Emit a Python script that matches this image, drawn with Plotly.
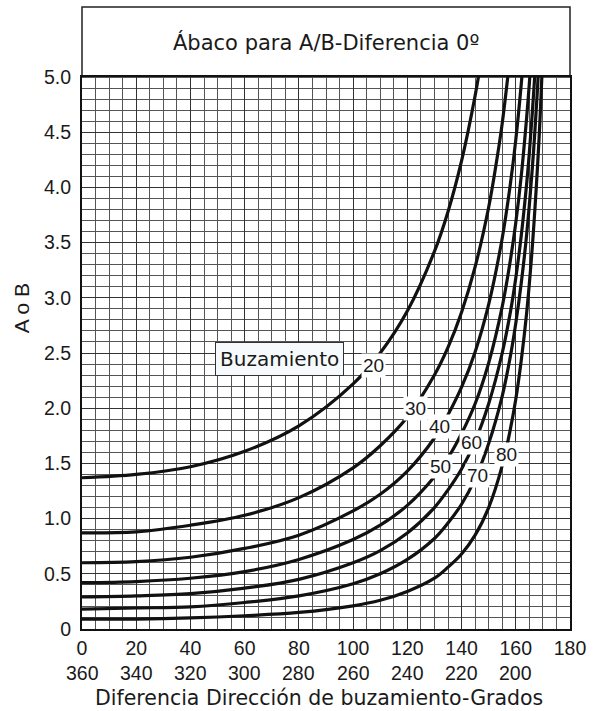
import plotly.graph_objects as go

# ---- data (A or B vs dip-direction difference) ----
DIPS = [20, 30, 40, 50, 60, 70, 80]

X_20 = [0, 20, 40, 60, 80, 100, 110, 120, 130, 135, 140, 145, 147]
Y_20 = [1.37, 1.40, 1.47, 1.61, 1.84, 2.22, 2.50, 2.88, 3.42, 3.78, 4.24, 4.83, 5.12]

X_30 = [0, 20, 40, 60, 80, 100, 110, 120, 130, 135, 140, 145, 150, 153, 155, 158]
Y_30 = [0.87, 0.88, 0.94, 1.03, 1.19, 1.46, 1.66, 1.92, 2.30, 2.55, 2.87, 3.28, 3.82, 4.25, 4.58, 5.21]

X_40 = [0, 20, 40, 60, 80, 100, 110, 120, 130, 135, 140, 145, 150, 155, 158, 160, 162, 163]
Y_40 = [0.60, 0.61, 0.65, 0.73, 0.85, 1.07, 1.22, 1.43, 1.73, 1.94, 2.19, 2.51, 2.94, 3.54, 4.03, 4.43, 4.93, 5.22]

X_50 = [0, 20, 40, 60, 80, 100, 110, 120, 130, 135, 140, 145, 150, 155, 158, 160, 162, 164, 165, 166]
Y_50 = [0.42, 0.43, 0.46, 0.52, 0.63, 0.81, 0.94, 1.12, 1.38, 1.55, 1.77, 2.04, 2.41, 2.92, 3.34, 3.68, 4.10, 4.63, 4.94, 5.30]

X_60 = [0, 20, 40, 60, 80, 100, 110, 120, 130, 135, 140, 145, 150, 155, 158, 160, 162, 164, 165, 166, 167, 168]
Y_60 = [0.29, 0.30, 0.32, 0.37, 0.45, 0.60, 0.71, 0.87, 1.10, 1.26, 1.45, 1.70, 2.04, 2.50, 2.87, 3.18, 3.56, 4.03, 4.31, 4.64, 5.01, 5.43]

X_70 = [0, 20, 40, 60, 80, 100, 110, 120, 130, 135, 140, 145, 150, 155, 158, 160, 162, 164, 166, 167, 168, 169]
Y_70 = [0.18, 0.19, 0.20, 0.24, 0.30, 0.41, 0.50, 0.63, 0.82, 0.96, 1.13, 1.36, 1.68, 2.11, 2.47, 2.77, 3.13, 3.57, 4.14, 4.49, 4.89, 5.37]

X_80 = [0, 20, 40, 60, 80, 100, 110, 120, 130, 135, 140, 145, 150, 155, 158, 160, 162, 164, 166, 168, 169, 170]
Y_80 = [0.09, 0.09, 0.10, 0.12, 0.15, 0.21, 0.26, 0.34, 0.46, 0.56, 0.68, 0.85, 1.10, 1.48, 1.81, 2.08, 2.43, 2.86, 3.43, 4.18, 4.65, 5.22]

CURVES_X = [X_20, X_30, X_40, X_50, X_60, X_70, X_80]
CURVES_Y = [Y_20, Y_30, Y_40, Y_50, Y_60, Y_70, Y_80]

# curve label positions (on the curves)
LABEL_X = [107.7, 123.0, 131.8, 132.3, 143.8, 146.0, 156.5]
LABEL_Y = [2.39, 2.00, 1.83, 1.47, 1.69, 1.39, 1.585]

X_TICKS = [0, 20, 40, 60, 80, 100, 120, 140, 160, 180]
X_TICKS_2 = [0, 20, 40, 60, 80, 100, 120, 140, 160]
X_TICK_TEXT_2 = ["360", "340", "320", "300", "280", "260", "240", "220", "200"]
Y_TICKS = [0, 0.5, 1.0, 1.5, 2.0, 2.5, 3.0, 3.5, 4.0, 4.5, 5.0]
Y_TICK_TEXT = ["0", "0.5", "1.0", "1.5", "2.0", "2.5", "3.0", "3.5", "4.0", "4.5", "5.0"]

TITLE = "Ábaco para A/B-Diferencia 0º"
X_TITLE = "Diferencia Dirección de buzamiento-Grados"
Y_TITLE = "A o B"
BOX_LABEL = "Buzamiento"

W, H = 598, 711
ML, MR, MT, MB = 82, 18, 77, 82
PH = H - MT - MB
PW = W - ML - MR

NUM_FONT = "Liberation Sans, Arial, sans-serif"
TXT_FONT = "DejaVu Sans, Verdana, sans-serif"
INK = "#1a1a1a"

fig = go.Figure()
for xs, ys, d in zip(CURVES_X, CURVES_Y, DIPS):
    fig.add_trace(go.Scatter(
        x=xs, y=ys, mode="lines", name=str(d),
        line=dict(color="#111111", width=3.2, shape="spline", smoothing=1.0),
        hoverinfo="skip", showlegend=False,
    ))

annotations = []
for d, lx, ly in zip(DIPS, LABEL_X, LABEL_Y):
    annotations.append(dict(
        x=lx, y=ly, xref="x", yref="y", text=str(d), showarrow=False,
        font=dict(family=NUM_FONT, size=19, color=INK),
        bgcolor="white", borderpad=1,
    ))

annotations.append(dict(
    x=72.8, y=2.45, xref="x", yref="y", text=BOX_LABEL, showarrow=False,
    font=dict(family=TXT_FONT, size=20, color=INK),
    bgcolor="#f6fafc", bordercolor="#333333", borderwidth=1, borderpad=4,
))

for xv, t in zip(X_TICKS_2, X_TICK_TEXT_2):
    annotations.append(dict(
        x=xv, y=-43.7 / PH, xref="x", yref="paper", text=t, showarrow=False,
        font=dict(family=NUM_FONT, size=19.5, color=INK), yanchor="middle",
    ))

annotations.append(dict(
    x=(323.5 - ML) / PW, y=-69.0 / PH, xref="paper", yref="paper",
    text=X_TITLE, showarrow=False, yanchor="middle",
    font=dict(family=TXT_FONT, size=20.5, color=INK),
))
annotations.append(dict(
    x=(20 - ML) / PW, y=(629 - 308) / PH, xref="paper", yref="paper",
    text=Y_TITLE, showarrow=False, textangle=-90, xanchor="center", yanchor="middle",
    font=dict(family=NUM_FONT, size=21, color=INK),
))
annotations.append(dict(
    x=0.5, y=1 + 35.0 / PH, xref="paper", yref="paper", text=TITLE, showarrow=False,
    yanchor="middle", font=dict(family=TXT_FONT, size=21, color=INK),
))

shapes = [dict(
    type="rect", xref="paper", yref="paper", x0=0, x1=1, y0=1, y1=1 + 70.0 / PH,
    line=dict(color="#222222", width=1.5), fillcolor="white", layer="below",
)]

fig.update_layout(
    width=W, height=H,
    margin=dict(l=ML, r=MR, t=MT, b=MB, pad=0),
    paper_bgcolor="white", plot_bgcolor="white",
    annotations=annotations, shapes=shapes,
    xaxis=dict(
        range=[0, 180], tickvals=X_TICKS, ticks="", showline=True, mirror=True,
        linecolor="#111111", linewidth=2, zeroline=False,
        showgrid=True, gridcolor="#333333", gridwidth=1.2,
        minor=dict(dtick=5, showgrid=True, gridcolor="#555555", gridwidth=1),
        tickfont=dict(family=NUM_FONT, size=19.5, color=INK),
        ticklabelstandoff=1, fixedrange=True,
    ),
    yaxis=dict(
        range=[0, 5], tickvals=Y_TICKS, ticktext=Y_TICK_TEXT, ticks="",
        showline=True, mirror=True, linecolor="#111111", linewidth=2, zeroline=False,
        showgrid=True, gridcolor="#333333", gridwidth=1.2,
        minor=dict(dtick=0.1, showgrid=True, gridcolor="#555555", gridwidth=1),
        tickfont=dict(family=NUM_FONT, size=19.5, color=INK),
        ticklabelstandoff=5, fixedrange=True,
    ),
)

fig.write_html("out.html")
